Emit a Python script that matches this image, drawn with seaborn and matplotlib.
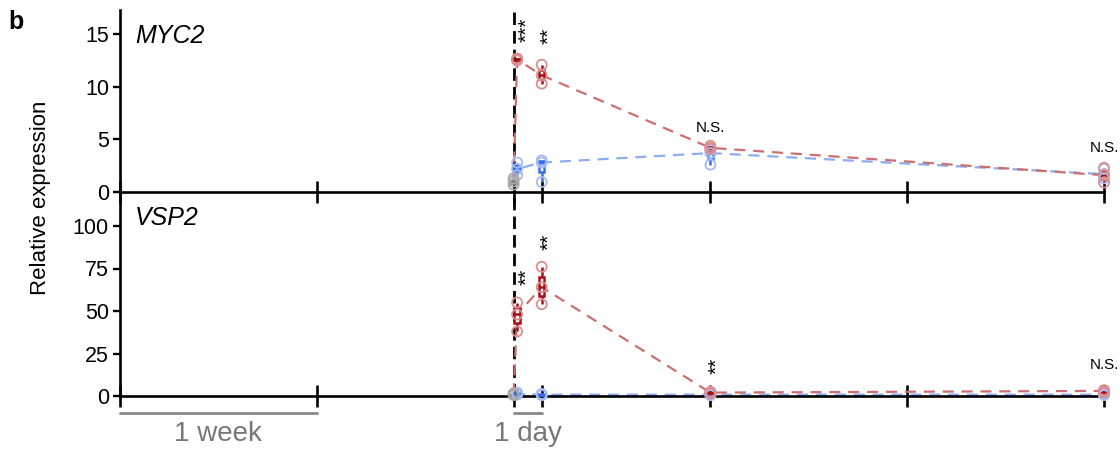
import numpy as np
import pandas as pd
import matplotlib
matplotlib.use("Agg")
import matplotlib.pyplot as plt
import seaborn as sns

# ---------------- data ----------------
days = [0.125, 1, 7, 21]
control_day = 0

myc2_control = [0.7, 1.0, 1.3]
myc2_treated = [[12.5, 12.6, 12.7], [10.3, 11.1, 12.1], [4.1, 4.2, 4.4], [0.9, 1.6, 2.3]]
myc2_mock = [[1.6, 2.2, 2.8], [0.95, 2.8, 3.0], [2.6, 3.7, 4.0], [1.3, 1.7, 2.2]]

vsp2_control = [0.5, 1.0, 1.5]
vsp2_treated = [[38, 48, 55], [54, 64, 76], [1.5, 2.0, 2.5], [2.0, 3.0, 3.5]]
vsp2_mock = [[0.8, 1.2, 2.0], [0.5, 0.8, 1.2], [0.5, 0.8, 1.2], [0.5, 0.8, 1.2]]

genes = ["MYC2", "VSP2"]
myc2_sig = [("***", 0.47, 15.4), ("**", 1.27, 14.8), ("N.S.", 7, 6.1), ("N.S.", 21, 4.2)]
vsp2_sig = [("**", 0.47, 70), ("**", 1.27, 90.6), ("**", 7.23, 17.6), ("N.S.", 21, 18)]

myc2_yticks = [0, 5, 10, 15]
vsp2_yticks = [0, 25, 50, 75, 100]
x_ticks = [-14, -7, 0, 1, 7, 14, 21]

# ---------------- styling ----------------
sns.set_style("ticks")
plt.rcParams["font.family"] = ["Liberation Sans", "DejaVu Sans"]
plt.rcParams["text.color"] = "black"
plt.rcParams["axes.labelcolor"] = "black"
plt.rcParams["xtick.color"] = "black"
plt.rcParams["ytick.color"] = "black"
plt.rcParams["axes.edgecolor"] = "black"

RED_DARK = "#a80f14"
RED_LIGHT = "#dc8f8f"
RED_LINE = "#cd6f6f"
BLUE_DARK = "#3b6de6"
BLUE_LIGHT = "#a3bbf6"
BLUE_LINE = "#8dacf2"
GRAY_DARK = "#707070"
GRAY_LIGHT = "#a8a8a8"


def long_df(values, xs):
    rows = []
    for x, reps in zip(xs, values):
        for v in reps:
            rows.append({"day": x, "value": v})
    return pd.DataFrame(rows)


W, H = 1120, 449
fig = plt.figure(figsize=(W / 100, H / 100), dpi=100)
ax2 = fig.add_axes([120 / W, 1 - 396 / H, 984 / W, 204 / H])
ax1 = fig.add_axes([120 / W, 1 - 192 / H, 984 / W, 182 / H])
for a in (ax1, ax2):
    a.patch.set_alpha(0)

panels = [
    (ax1, myc2_control, myc2_treated, myc2_mock, "MYC2", myc2_sig, myc2_yticks, 17.3, 14.8),
    (ax2, vsp2_control, vsp2_treated, vsp2_mock, "VSP2", vsp2_sig, vsp2_yticks, 120, 104.7),
]

for ax, ctrl, treated, mock, gene, sig, yticks, ytop, ylab in panels:
    ctrl_df = long_df([ctrl], [control_day])
    for vals, dark, light, line in [(mock, BLUE_DARK, BLUE_LIGHT, BLUE_LINE),
                                    (treated, RED_DARK, RED_LIGHT, RED_LINE)]:
        df = long_df(vals, days)
        sns.lineplot(data=pd.concat([ctrl_df, df]), x="day", y="value",
                     estimator="median", errorbar=None, color=line, lw=1.6,
                     linestyle=(0, (5, 3.5)), ax=ax, zorder=2)
        sns.boxplot(data=df, x="day", y="value", native_scale=True, width=0.22,
                    color="white", linecolor=dark, linewidth=1.8, whis=(0, 100),
                    showcaps=False, showfliers=False, ax=ax, zorder=4)
        sns.scatterplot(data=df, x="day", y="value", color=light, s=52,
                        linewidth=1.3, ax=ax, zorder=5)
        coll = ax.collections[-1]
        coll.set_facecolor("none")
        coll.set_edgecolor(light)
    # control
    sns.boxplot(data=ctrl_df, x="day", y="value", native_scale=True, width=0.18,
                color=GRAY_DARK, linecolor=GRAY_DARK, linewidth=1.8, whis=(0, 100),
                showcaps=False, showfliers=False, ax=ax, zorder=4)
    sns.scatterplot(data=ctrl_df, x="day", y="value", color=GRAY_LIGHT, s=52,
                    linewidth=1.3, ax=ax, zorder=5)
    coll = ax.collections[-1]
    coll.set_facecolor("none")
    coll.set_edgecolor(GRAY_LIGHT)

    for art in list(ax.patches) + list(ax.lines) + list(ax.collections):
        art.set_clip_on(False)

    ax.axvline(0, color="black", lw=2.0, linestyle=(0, (4.5, 2.2)), zorder=1.5)

    ax.set_xlim(-14, 21)
    ax.set_ylim(0, ytop)
    ax.set_xticks(x_ticks)
    ax.set_xticklabels([])
    ax.set_yticks(yticks)
    ax.set_xlabel("")
    ax.set_ylabel("")
    ax.tick_params(axis="x", direction="inout", length=16, width=1.9, color="black")
    ax.tick_params(axis="y", direction="out", length=5, width=1.7, labelsize=15.5,
                   pad=3, color="black", labelcolor="black")
    for s in ["top", "right"]:
        ax.spines[s].set_visible(False)
    for s in ["left", "bottom"]:
        ax.spines[s].set_linewidth(1.9)
        ax.spines[s].set_color("black")
        ax.spines[s].set_zorder(3)

    ax.text(-13.47, ylab, gene, fontsize=18, style="italic", ha="left", va="center",
            color="black")
    for label, x, y in sig:
        if label == "N.S.":
            ax.text(x, y, label, fontsize=11, ha="center", va="center", color="black")
        else:
            ax.text(x, y, label, fontsize=15, rotation=90, ha="center", va="center",
                    color="black")

# scale bars
trans = ax2.get_xaxis_transform()
ax2.plot([-14, -7], [-0.083, -0.083], transform=trans, color="#888888", lw=2, clip_on=False)
ax2.plot([0, 1], [-0.083, -0.083], transform=trans, color="#888888", lw=2, clip_on=False)
ax2.text(-10.5, -0.185, "1 week", transform=trans, fontsize=20, color="#777777",
         ha="center", va="center")
ax2.text(0.5, -0.185, "1 day", transform=trans, fontsize=20, color="#777777",
         ha="center", va="center")

fig.text(41 / W, 1 - 198 / H, "Relative expression", rotation=90, fontsize=16,
         ha="center", va="center", color="black")
fig.text(8 / W, 1 - 22 / H, "b", fontsize=18, fontweight="bold", ha="left", va="center",
         color="black")

fig.savefig("out.png", dpi=100)
